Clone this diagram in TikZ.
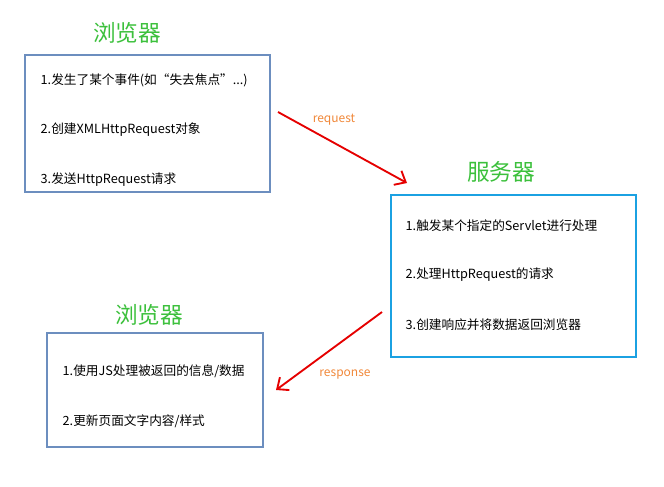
\documentclass[tikz,border=0pt]{standalone}
\usepackage{fontspec}
\setmainfont{Noto Sans CJK SC}
\usetikzlibrary{arrows.meta}
\definecolor{tgreen}{HTML}{3CC03C}
\definecolor{bbox}{HTML}{6C8EBF}
\definecolor{sbox}{HTML}{1BA1E2}
\definecolor{lbl}{HTML}{F0883A}
\begin{document}
\begin{tikzpicture}[x=0.75pt,y=-0.75pt,
  title/.style={text=tgreen,font=\fontsize{17}{19}\selectfont},
  item/.style={anchor=west,font=\fontsize{9.5}{11}\selectfont},
  flow/.style={draw=red!90!black,line width=1.4pt,-{Straight Barb[length=7pt,width=12pt]}},
  lab/.style={text=lbl,font=\fontsize{9}{11}\selectfont}]
\useasboundingbox (0,0) rectangle (664,486);
\node[title] (t1) at (127,33) {浏览器};
\draw[bbox,line width=1.2pt] (25,55) rectangle (270,192);
\node[item] (a1) at (36,80) {1.发生了某个事件(如“失去焦点”...)};
\node[item] (a2) at (36,130) {2.创建XMLHttpRequest对象};
\node[item] (a3) at (36,180) {3.发送HttpRequest请求};
\node[title] (t2) at (501,172) {服务器};
\draw[sbox,line width=2pt] (391,195) rectangle (636,357);
\node[item] (s1) at (401,226) {1.触发某个指定的Servlet进行处理};
\node[item] (s2) at (401,275) {2.处理HttpRequest的请求};
\node[item] (s3) at (401,325) {3.创建响应并将数据返回浏览器};
\node[title] (t3) at (149,315) {浏览器};
\draw[bbox,line width=1.2pt] (47,333) rectangle (263,447);
\node[item] (c1) at (58,371) {1.使用JS处理被返回的信息/数据};
\node[item] (c2) at (58,421) {2.更新页面文字内容/样式};
\coordinate (r1) at (278,112); \coordinate (r2) at (407,183);
\coordinate (p1) at (382,312); \coordinate (p2) at (276,390);
\draw[flow] (r1) -- (r2);
\draw[flow] (p1) -- (p2);
\node[lab] (rl) at (334,120) {request};
\node[lab] (pl) at (345,375) {response};
\end{tikzpicture}
\end{document}
